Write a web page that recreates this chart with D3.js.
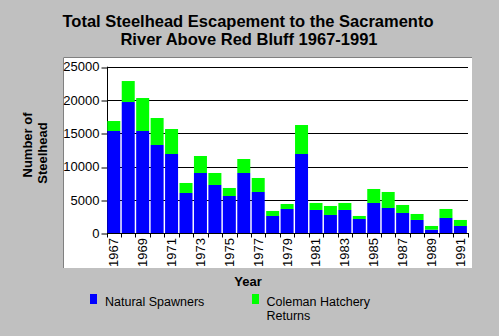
<!DOCTYPE html>
<html><head><meta charset="utf-8">
<script src="https://cdn.jsdelivr.net/npm/d3@7"></script>
<style>
body{margin:0;background:#c0c0c0;}
svg{display:block;font-family:Arial,"Liberation Sans",sans-serif;}
</style></head>
<body><svg id="c" width="499" height="336"></svg>
<script>
const years = [1967,1968,1969,1970,1971,1972,1973,1974,1975,1976,1977,1978,1979,1980,1981,1982,1983,1984,1985,1986,1987,1988,1989,1990,1991];
const natural = [15350,19700,15350,13250,11900,6050,9050,7250,5600,9050,6200,2600,3650,11900,3500,2750,3500,2150,4550,3800,3050,2000,550,2300,1100];
const hatchery = [1500,3150,4950,4050,3750,1500,2550,1800,1200,2100,2100,750,750,4350,1050,1350,1050,450,2100,2400,1200,900,550,1350,900];
const yTicks = [0,5000,10000,15000,20000,25000];
const titleLines = ["Total Steelhead Escapement to the Sacramento","River Above Red Bluff 1967-1991"];
const yTitle = ["Number of","Steelhead"];
const seriesNames = ["Natural Spawners",["Coleman Hatchery","Returns"]];
const colors = ["#0000ff","#00ff00"];

const svg = d3.select("#c");
// panel
svg.append("rect").attr("x",63).attr("y",57).attr("width",409).attr("height",211).attr("fill","#fff");
svg.append("path").attr("d","M63.5,268V57.5H472").attr("stroke","#808080").attr("fill","none");

// title
svg.append("text").attr("x",248).attr("y",27).attr("text-anchor","middle")
  .attr("font-weight","bold").attr("font-size",16.5).text(titleLines[0]);
svg.append("text").attr("x",249).attr("y",44.5).attr("text-anchor","middle")
  .attr("font-weight","bold").attr("font-size",16.5).text(titleLines[1]);

const x = d3.scaleBand().domain(years).range([107.3,466.9]).paddingInner(0.1).paddingOuter(0);
const y = d3.scaleLinear().domain([0,25000]).range([233.3,66.7]);
const step = x.step();

// gridlines
svg.append("g").selectAll("line").data(yTicks.slice(1)).join("line")
  .attr("x1",107.5).attr("x2",468).attr("y1",d=>Math.round(y(d))+0.5).attr("y2",d=>Math.round(y(d))+0.5)
  .attr("stroke","#000");

// y axis
const yAxis = d3.axisLeft(y).tickValues(yTicks).tickSize(6).tickPadding(2).tickFormat(d3.format("d"));
const gy = svg.append("g").attr("transform","translate(107.5,0)").call(yAxis);
gy.select(".domain").attr("d","M0,66.7V233.5");
gy.selectAll("line").attr("transform",d=>`translate(0,${Math.round(y(d))+0.5-y(d)})`);
gy.selectAll("text").attr("font-size",13).attr("font-family","Arial,'Liberation Sans',sans-serif");

// bars
const stack = years.map((yr,i)=>({yr,n:natural[i],h:hatchery[i]}));
svg.append("g").selectAll("rect").data(stack).join("rect")
  .attr("x",d=>x(d.yr)).attr("width",x.bandwidth())
  .attr("y",d=>y(d.n)).attr("height",d=>y(0)-y(d.n)).attr("fill",colors[0]);
svg.append("g").selectAll("rect").data(stack).join("rect")
  .attr("x",d=>x(d.yr)).attr("width",x.bandwidth())
  .attr("y",d=>y(d.n+d.h)).attr("height",d=>y(d.n)-y(d.n+d.h)).attr("fill",colors[1]);

// x axis
const gx = svg.append("g");
gx.append("line").attr("x1",107.3).attr("x2",468).attr("y1",233.5).attr("y2",233.5).attr("stroke","#000");
const tickPos = d3.range(years.length+1).map(i=>107.3+i*step-(i?step*0.05:0));
gx.selectAll("line.t").data(tickPos).join("line").attr("class","t")
  .attr("x1",d=>Math.round(d)+0.5).attr("x2",d=>Math.round(d)+0.5).attr("y1",233).attr("y2",237.5).attr("stroke","#000");
gx.selectAll("text").data(years.filter((d,i)=>i%2===0)).join("text")
  .attr("transform",d=>`translate(${x(d)+x.bandwidth()/2+4.5},238) rotate(-90)`)
  .attr("text-anchor","end").attr("font-size",13).text(d=>d);

// axis titles
svg.append("text").attr("transform","translate(31.5,145) rotate(-90)").attr("text-anchor","middle")
  .attr("font-weight","bold").attr("font-size",13).text(yTitle[0]);
svg.append("text").attr("transform","translate(46.5,153) rotate(-90)").attr("text-anchor","middle")
  .attr("font-weight","bold").attr("font-size",13).text(yTitle[1]);
svg.append("text").attr("x",248).attr("y",286).attr("text-anchor","middle")
  .attr("font-weight","bold").attr("font-size",13).text("Year");

// legend
svg.append("rect").attr("x",90).attr("y",294).attr("width",7).attr("height",10).attr("fill",colors[0]);
svg.append("text").attr("x",105).attr("y",305.5).attr("font-size",12.5).text(seriesNames[0]);
svg.append("rect").attr("x",252).attr("y",294).attr("width",7).attr("height",10).attr("fill",colors[1]);
svg.append("text").attr("x",266.5).attr("y",305.5).attr("font-size",12.5).text(seriesNames[1][0]);
svg.append("text").attr("x",266.5).attr("y",319.5).attr("font-size",12.5).text(seriesNames[1][1]);
</script></body></html>
